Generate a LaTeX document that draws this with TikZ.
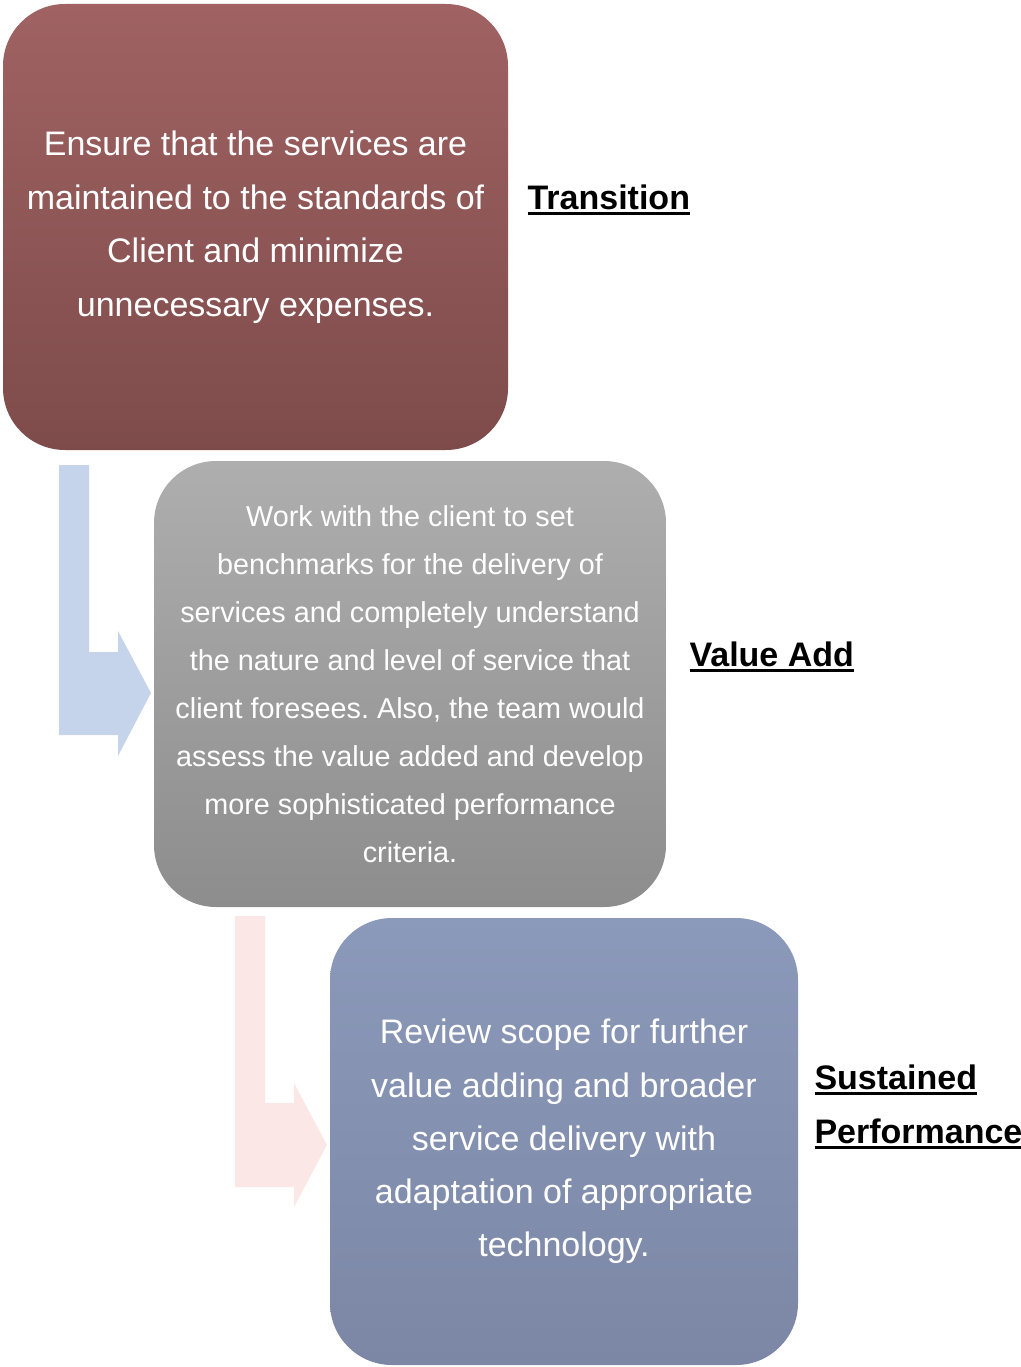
\documentclass[tikz,border=0pt]{standalone}
\usepackage{fontspec}
\setmainfont{Liberation Sans}
\frenchspacing
\newcommand{\ulabel}[1]{\setbox0\hbox{#1}\rlap{\rule[-5pt]{\wd0}{2.8pt}}\box0}
\definecolor{redtop}{HTML}{A06262}
\definecolor{redbot}{HTML}{7E4B4B}
\definecolor{graytop}{HTML}{AEAEAE}
\definecolor{graybot}{HTML}{8D8D8D}
\definecolor{bluetop}{HTML}{8B99BA}
\definecolor{bluebot}{HTML}{7C87A5}
\definecolor{arrowblue}{HTML}{C6D4EB}
\definecolor{arrowpink}{HTML}{FBE8E6}

\begin{document}
\begin{tikzpicture}[x=1pt,y=-1pt,
    stage/.style={rectangle, rounded corners=62pt, inner sep=0pt, text=white, align=center},
    phase/.style={anchor=west, align=left, font=\fontsize{34}{54}\selectfont\bfseries}]
    \useasboundingbox (0,0) rectangle (1020,1367);
    % bent arrows behind the boxes
    \fill [arrowblue] (59,465) -- (89,465) -- (89,652) -- (118,652) -- (118,631)
        -- (151,693) -- (118,756) -- (118,735) -- (59,735) -- cycle;
    \fill [arrowpink] (235,916) -- (265,916) -- (265,1103) -- (294,1103) -- (294,1083)
        -- (327,1145) -- (294,1207) -- (294,1187) -- (235,1187) -- cycle;
    % the three stages
    \node [stage, minimum width=505pt, minimum height=446pt, top color=redtop, bottom color=redbot,
        font=\fontsize{34}{53.5}\selectfont] (a) at (255.5,227)
        {Ensure that the services are\\ maintained to the standards of\\ Client and minimize\\ unnecessary expenses.};
    \node [stage, minimum width=512pt, minimum height=446pt, top color=graytop, bottom color=graybot,
        font=\fontsize{28.8}{48}\selectfont] (b) at (410,684)
        {Work with the client to set\\ benchmarks for the delivery of\\ services and completely understand\\
         the nature and level of service that\\ client foresees. Also, the team would\\
         assess the value added and develop\\ more sophisticated performance\\ criteria.};
    \node [stage, minimum width=468pt, minimum height=447pt, top color=bluetop, bottom color=bluebot,
        font=\fontsize{34}{53.3}\selectfont] (c) at (564,1141.5)
        {Review scope for further\\ value adding and broader\\ service delivery with\\ adaptation of appropriate\\ technology.};
    % phase names
    \node [phase] (ta) at (524,200) {\ulabel{Transition}};
    \node [phase] (tb) at (686,657) {\ulabel{Value Add}};
    \node [phase] (tc) at (811,1107) {\ulabel{Sustained}\\ \ulabel{Performance}};
  \end{tikzpicture}
\end{document}
